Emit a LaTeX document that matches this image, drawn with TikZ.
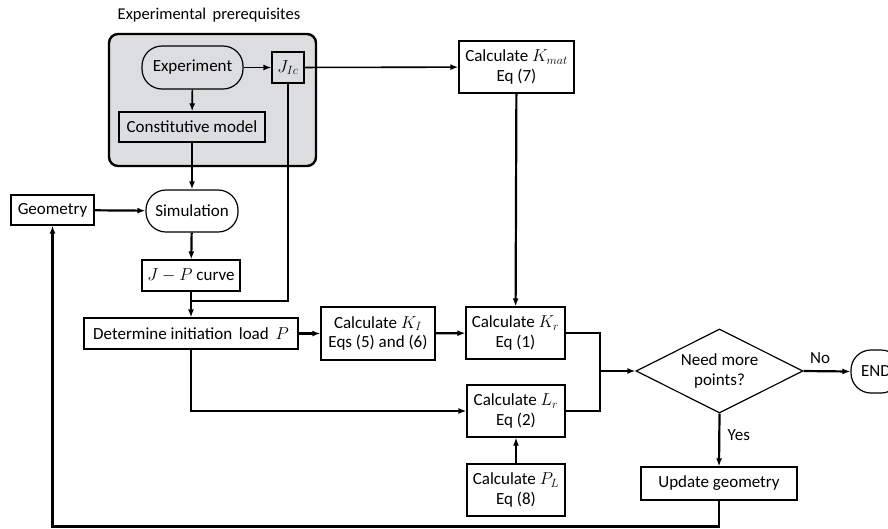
\documentclass[tikz,border=0pt]{standalone}
\usepackage{fontspec}
\setmainfont{Carlito}
\usetikzlibrary{arrows.meta,shapes.geometric,positioning}
\definecolor{grpfill}{RGB}{220,221,223}
\tikzset{
  box/.style={draw, line width=1.2pt, fill=white, align=center, inner sep=1pt, font=\fontsize{17}{19.5}\selectfont},
  term/.style={box, rounded corners=20pt},
  conn/.style={line width=2.2pt},
  arr/.style={conn, -{Latex[length=8pt,width=6pt]}},
  thinarr/.style={line width=1.6pt, -{Latex[length=8pt,width=6pt]}},
  lbl/.style={font=\fontsize{17}{19.5}\selectfont},
}
\begin{document}
\begin{tikzpicture}[x=1pt,y=-1pt]
\useasboundingbox (0,0) rectangle (888,528);
\node[font=\fontsize{16.5}{19}\selectfont] (title) at (209,15) {Experimental\, prerequisites};
\node[draw, line width=2.4pt, fill=grpfill, rounded corners=9pt, minimum width=207pt, minimum height=132pt] (grp) at (212.5,100) {};
\node[term, fill=grpfill, minimum width=101pt, minimum height=43pt] (exp) at (192.5,67.5) {Experiment};
\node[box, fill=grpfill, minimum width=32pt, minimum height=31pt] (jic) at (288,67.5) {$J_{Ic}$};
\node[box, fill=grpfill, minimum width=146pt, minimum height=30pt] (cm) at (192,127) {Constitutive model};
\node[box, minimum width=115pt, minimum height=52pt] (kmat) at (516.5,67) {Calculate $K_{mat}$\\Eq (7)};
\node[term, minimum width=92pt, minimum height=42pt] (sim) at (192,211) {Simulation};
\node[box, minimum width=83pt, minimum height=30pt] (geo) at (52.5,210) {Geometry};
\node[box, minimum width=98pt, minimum height=31pt] (jp) at (191,275.5) {$J-P$ curve};
\node[box, minimum width=214pt, minimum height=31pt] (det) at (191,333.5) {Determine initiation\, load\, $P$};
\node[box, minimum width=114pt, minimum height=53pt] (ki) at (378,333.5) {Calculate $K_I$\\Eqs (5) and (6)};
\node[box, minimum width=99pt, minimum height=52pt] (kr) at (515.5,333) {Calculate $K_r$\\Eq (1)};
\node[box, minimum width=98pt, minimum height=52pt] (lr) at (516,411) {Calculate $L_r$\\Eq (2)};
\node[box, minimum width=98pt, minimum height=52pt] (pl) at (516,490) {Calculate $P_L$\\Eq (8)};
\node[box, diamond, aspect=2, inner sep=0pt, minimum width=167pt, minimum height=84pt] (dia) at (719.5,371) {Need more\\points?};
\node[term, minimum width=50pt, minimum height=43pt] (endn) at (876,371.5) {END};
\node[box, minimum width=156pt, minimum height=33pt] (upd) at (719,483.5) {Update geometry};
\coordinate (jx) at (600,371);
\coordinate (jjoin) at (192,301);
\coordinate (bot) at (719,526.5);
% connectors
\draw[thinarr] (exp) -- (jic);
\draw[thinarr] (exp) -- (cm);
\draw[thinarr] (jic) -- (kmat);
\draw[line width=1.6pt] (jic.south) |- (jjoin);
\draw[arr] (cm) -- (sim);
\draw[arr] (geo) -- (sim);
\draw[arr] (sim) -- (jp);
\draw[arr] (jp) -- (det);
\draw[arr] (det) -- (ki);
\draw[arr] (ki) -- (kr);
\draw[arr] (kmat) -- (kr);
\draw[arr] (det.south) |- (lr.west);
\draw[arr] (pl) -- (lr);
\draw[conn] (kr.east) -| (jx) |- (lr.east);
\draw[arr] (jx) -- (dia.west);
\draw[arr] (dia.east) -- node[lbl, above=3pt, pos=0.35] {No} (endn.west);
\draw[arr] (dia.south) -- node[lbl, right=4pt, pos=0.4] {Yes} (upd.north);
\draw[arr] (upd.south) -- (bot) -| (geo.south);
\end{tikzpicture}
\end{document}
